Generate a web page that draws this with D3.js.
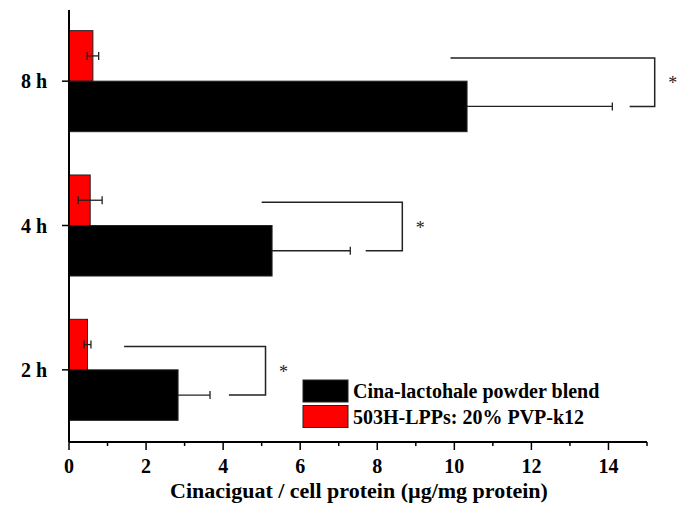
<!DOCTYPE html>
<html>
<head>
<meta charset="utf-8">
<script src="https://cdn.jsdelivr.net/npm/d3@7"></script>
<style>
  body { margin: 0; background: #fff; }
  svg { display: block; font-family: "Times New Roman", "Liberation Serif", serif; }
</style>
</head>
<body>
<svg width="689" height="505"></svg>
<script>
// data
var times = ["8 h", "4 h", "2 h"];
var powderMean = [10.33, 5.27, 2.83];
var powderErr = [3.77, 2.03, 0.83];
var lppMean = [0.62, 0.55, 0.48];
var lppErr = [0.15, 0.31, 0.09];
// significance brackets: start of upper arm, start of lower arm, vertical position
var bracketTop = [9.9, 5.0, 1.43];
var bracketLow = [14.55, 7.7, 4.15];
var bracketRight = [15.2, 8.65, 5.1];
var xTicks = [0, 2, 4, 6, 8, 10, 12, 14];
var seriesNames = ["Cina-lactohale powder blend", "503H-LPPs: 20% PVP-k12"];
var seriesColors = ["#000000", "#ff0000"];

var svg = d3.select("svg");
var mLeft = 69, mRight = 647, mTop = 9, mBottom = 442;

var x = d3.scaleLinear().domain([0, 15]).range([mLeft, mRight]);
var y = d3.scaleBand().domain(times).range([mTop, mBottom]);
var barH = y.bandwidth() * 0.35;
function mid(t) { return y(t) + y.bandwidth() / 2; }

// bars
times.forEach(function(t, i) {
  var c = mid(t);
  svg.append("rect")
    .attr("x", x(0)).attr("y", c - barH)
    .attr("width", x(lppMean[i]) - x(0)).attr("height", barH)
    .attr("fill", seriesColors[1]).attr("stroke", "#222").attr("stroke-width", 1);
  svg.append("rect")
    .attr("x", x(0)).attr("y", c)
    .attr("width", x(powderMean[i]) - x(0)).attr("height", barH)
    .attr("fill", seriesColors[0]).attr("stroke", "#222").attr("stroke-width", 1);

  // error bars
  var ry = c - barH / 2, by = c + barH / 2;
  var g = svg.append("g").attr("stroke", "#222").attr("stroke-width", 1.3);
  g.append("line").attr("x1", x(lppMean[i] - lppErr[i])).attr("x2", x(lppMean[i] + lppErr[i])).attr("y1", ry).attr("y2", ry);
  [lppMean[i] - lppErr[i], lppMean[i] + lppErr[i]].forEach(function(v) {
    g.append("line").attr("x1", x(v)).attr("x2", x(v)).attr("y1", ry - 4).attr("y2", ry + 4);
  });
  g.append("line").attr("x1", x(powderMean[i])).attr("x2", x(powderMean[i] + powderErr[i])).attr("y1", by).attr("y2", by);
  g.append("line").attr("x1", x(powderMean[i] + powderErr[i])).attr("x2", x(powderMean[i] + powderErr[i])).attr("y1", by - 4).attr("y2", by + 4);

  // significance bracket
  var b = svg.append("g").attr("stroke", "#222").attr("stroke-width", 1.5).attr("fill", "none");
  b.append("path").attr("d",
    "M" + x(bracketTop[i]) + "," + (ry + 2) + "H" + x(bracketRight[i]) +
    "V" + by + "H" + x(bracketLow[i]));
  svg.append("text")
    .attr("x", x(bracketRight[i]) + 18).attr("y", c + 8)
    .attr("text-anchor", "middle").attr("font-size", 18).attr("fill", "#222")
    .text("*");
});

// axes
var xAxis = svg.append("g").attr("transform", "translate(0," + mBottom + ")");
xAxis.append("line").attr("x1", mLeft).attr("x2", mRight).attr("stroke", "#000").attr("stroke-width", 2);
d3.range(0, 16).forEach(function(v) {
  xAxis.append("line").attr("x1", x(v)).attr("x2", x(v)).attr("y1", 0)
    .attr("y2", v % 2 === 0 ? 8 : 4).attr("stroke", "#000").attr("stroke-width", 1.5);
});
xAxis.selectAll("text.tick").data(xTicks).enter().append("text")
  .attr("x", function(d) { return x(d); }).attr("y", 31)
  .attr("text-anchor", "middle").attr("font-size", 20).attr("font-weight", "bold")
  .text(function(d) { return d; });

svg.append("text")
  .attr("x", 359).attr("y", 498)
  .attr("text-anchor", "middle").attr("font-size", 22).attr("font-weight", "bold")
  .text("Cinaciguat / cell protein (\u00b5g/mg protein)");

var yAxis = svg.append("g");
yAxis.append("line").attr("x1", mLeft).attr("x2", mLeft).attr("y1", mTop + 1).attr("y2", mBottom)
  .attr("stroke", "#000").attr("stroke-width", 2);
times.forEach(function(t) {
  yAxis.append("line").attr("x1", mLeft - 7).attr("x2", mLeft).attr("y1", mid(t)).attr("y2", mid(t))
    .attr("stroke", "#000").attr("stroke-width", 1.5);
  yAxis.append("text").attr("x", 47).attr("y", mid(t) + 7)
    .attr("text-anchor", "end").attr("font-size", 20).attr("font-weight", "bold")
    .text(t);
});

// legend
var lg = svg.append("g").attr("transform", "translate(303,380)");
seriesNames.forEach(function(n, i) {
  lg.append("rect").attr("x", 0).attr("y", i * 25.5).attr("width", 45).attr("height", 22)
    .attr("fill", seriesColors[i]).attr("stroke", "#222").attr("stroke-width", 1);
  lg.append("text").attr("x", 50).attr("y", i * 25.5 + 18)
    .attr("font-size", 20).attr("font-weight", "bold").text(n);
});
</script>
</body>
</html>
